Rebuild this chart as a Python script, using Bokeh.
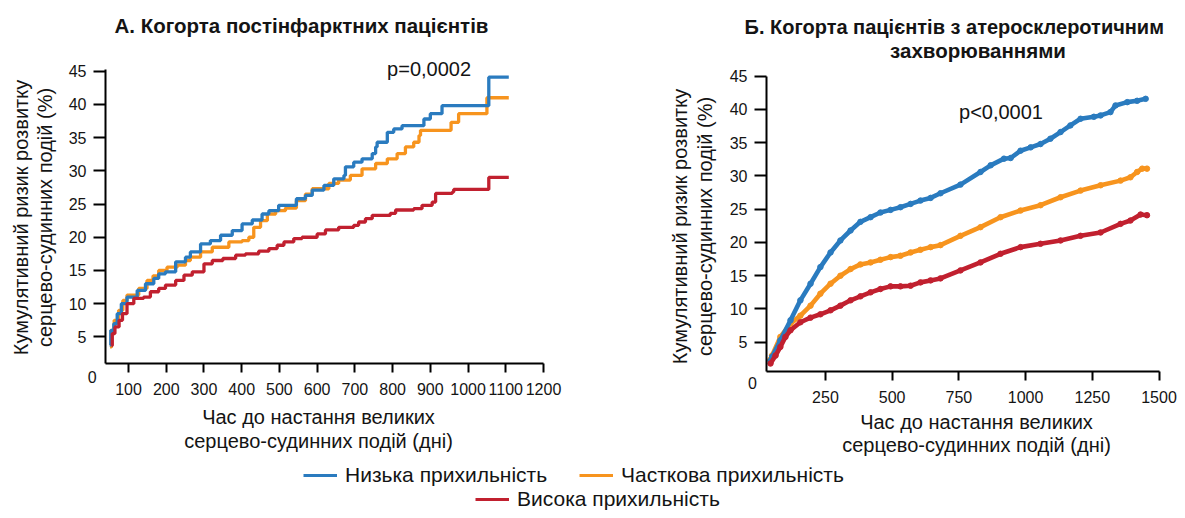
import math
from bokeh.plotting import figure
from bokeh.layouts import column, row
from bokeh.models import Label, Legend, LegendItem, FixedTicker, ColumnDataSource, Range1d
from bokeh.embed import file_html
from bokeh.resources import INLINE

BLUE = "#2A7BBF"
ORANGE = "#F7941E"
RED = "#C1202F"
FONT = "Liberation Sans"
INK = "#141414"

# ---------------- Panel A (post-MI cohort), Kaplan-Meier steps ----------------
a_low_days = [50, 53, 61, 70, 81, 96, 123, 145, 167, 180, 198, 225, 251, 264, 291, 317, 344, 375,
              401, 428, 454, 472, 498, 545, 569, 587, 618, 644, 671, 675, 697, 719, 746, 755, 759,
              786, 803, 825, 883, 900, 931, 1055, 1108]
a_low_risk = [3.8, 6.0, 7.0, 8.5, 10.0, 11.0, 12.0, 13.0, 13.8, 14.5, 14.8, 16.3, 17.0, 17.8, 19.0,
              19.5, 20.3, 21.0, 22.0, 22.6, 23.5, 24.0, 24.8, 25.8, 26.3, 27.1, 27.8, 28.8, 29.3,
              30.6, 31.3, 31.8, 32.6, 33.6, 34.3, 35.8, 36.3, 36.8, 37.8, 38.6, 39.8, 44.1, 44.1]

a_part_days = [51, 55, 62, 74, 85, 96, 127, 149, 165, 180, 202, 229, 251, 264, 291, 322, 366, 401,
               419, 432, 450, 468, 490, 516, 545, 569, 587, 631, 657, 688, 719, 755, 786, 812, 834,
               856, 870, 874, 955, 975, 1050, 1108]
a_part_risk = [3.5, 6.0, 7.5, 9.0, 10.5, 11.3, 12.3, 13.5, 14.2, 15.0, 15.5, 15.8, 16.5, 17.0, 17.8,
               18.5, 19.3, 19.5, 20.0, 21.5, 22.5, 23.5, 24.0, 24.4, 25.5, 26.5, 27.3, 28.1, 28.6,
               29.3, 30.3, 31.1, 31.8, 32.6, 33.6, 34.3, 35.3, 36.1, 37.3, 38.6, 41.0, 41.0]

a_high_days = [55, 57, 64, 75, 84, 96, 114, 140, 158, 180, 198, 225, 247, 269, 300, 322, 350, 384,
               410, 445, 472, 494, 512, 538, 560, 600, 622, 657, 697, 710, 728, 746, 794, 808, 856,
               878, 905, 914, 958, 962, 1055, 1108]
a_high_risk = [3.7, 5.5, 6.5, 7.5, 8.5, 10.0, 10.8, 11.0, 11.8, 12.3, 12.8, 13.5, 14.3, 14.8, 16.0,
               16.5, 16.8, 17.3, 17.5, 17.9, 18.3, 18.8, 19.3, 19.8, 20.0, 20.5, 21.1, 21.5, 21.8,
               22.3, 22.8, 23.3, 23.6, 24.1, 24.3, 24.8, 25.3, 26.6, 26.8, 27.2, 29.0, 29.0]

a_xticks = [100, 200, 300, 400, 500, 600, 700, 800, 900, 1000, 1100, 1200]
a_yticks = [5, 10, 15, 20, 25, 30, 35, 40, 45]

# ---------------- Panel B (atherosclerotic cohort) ----------------
b_low_days = [44, 50, 81, 119, 156, 194, 231, 269, 306, 344, 381, 419, 456, 494, 531, 569, 606,
              644, 681, 756, 831, 869, 919, 944, 981, 1019, 1056, 1093, 1131, 1168, 1206, 1256,
              1281, 1318, 1337, 1381, 1418, 1450]
b_low_risk = [2.2, 2.8, 5.3, 8.3, 11.3, 13.8, 16.3, 18.5, 20.3, 21.8, 23.1, 23.8, 24.5, 24.9, 25.3,
              25.8, 26.3, 26.7, 27.4, 28.7, 30.6, 31.6, 32.6, 32.7, 33.8, 34.3, 34.8, 35.6, 36.6,
              37.6, 38.6, 38.9, 39.1, 39.6, 40.6, 41.1, 41.3, 41.6]

b_part_days = [44, 50, 81, 119, 156, 194, 231, 269, 306, 344, 381, 419, 456, 494, 531, 569, 606,
               644, 681, 756, 831, 906, 981, 1056, 1131, 1206, 1281, 1356, 1393, 1418, 1437, 1455]
b_part_risk = [2.4, 3.0, 5.8, 7.8, 9.0, 10.5, 12.3, 13.8, 15.0, 16.0, 16.7, 17.0, 17.4, 17.8, 18.0,
               18.5, 18.9, 19.3, 19.6, 21.0, 22.3, 23.8, 24.8, 25.6, 26.8, 27.8, 28.6, 29.3, 29.8,
               30.6, 31.1, 31.1]

b_high_days = [44, 63, 81, 100, 119, 156, 194, 231, 269, 306, 344, 381, 419, 456, 494, 531, 569,
               606, 644, 681, 756, 831, 906, 981, 1056, 1131, 1206, 1281, 1356, 1393, 1431, 1455]
b_high_risk = [1.8, 3.0, 4.3, 5.8, 6.8, 8.0, 8.7, 9.2, 9.8, 10.5, 11.3, 11.9, 12.5, 13.0, 13.4,
               13.4, 13.5, 14.0, 14.3, 14.6, 15.8, 17.0, 18.3, 19.3, 19.8, 20.3, 21.0, 21.5, 22.8,
               23.3, 24.2, 24.1]

b_xticks = [250, 500, 750, 1000, 1250, 1500]
b_yticks = [5, 10, 15, 20, 25, 30, 35, 40, 45]

series_names = ["Низька прихильність", "Часткова прихильність", "Висока прихильність"]
title_a = "А. Когорта постінфарктних пацієнтів"
title_b1 = "Б. Когорта пацієнтів з атеросклеротичним"
title_b2 = "захворюваннями"
ylab1 = "Кумулятивний ризик розвитку"
ylab2 = "серцево-судинних подій (%)"
xlab1 = "Час до настання великих"
xlab2 = "серцево-судинних подій (дні)"
p_a = "p=0,0002"
p_b = "p<0,0001"


def make_panel(width, height, xlim, ylim, box):
    """box = (left, right, top, bottom) pixel positions of the axes box inside the canvas.
    The plotting frame covers the whole canvas; axes are pinned to the box corner."""
    left, right, top, bottom = box
    sx = (right - left) / (xlim[1] - xlim[0])
    sy = (bottom - top) / (ylim[1] - ylim[0])
    xr = Range1d(xlim[0] - left / sx, xlim[1] + (width - right) / sx)
    yr = Range1d(ylim[0] - (height - bottom) / sy, ylim[1] + top / sy)
    p = figure(width=width, height=height, x_range=xr, y_range=yr,
               output_backend="svg", toolbar_location=None, min_border=0)
    p.xgrid.visible = False
    p.ygrid.visible = False
    p.outline_line_color = None
    p.background_fill_color = "white"
    p.border_fill_color = "white"
    xa, ya = p.xaxis[0], p.yaxis[0]
    xa.fixed_location = ylim[0]
    ya.fixed_location = xlim[0]
    xa.bounds = (xlim[0], xlim[1])
    ya.bounds = (ylim[0], ylim[1])
    for ax in (xa, ya):
        ax.axis_line_width = 2
        ax.axis_line_color = "black"
        ax.major_tick_line_width = 2
        ax.major_tick_line_color = "black"
        ax.major_tick_in = 0
        ax.minor_tick_line_color = None
        ax.major_label_text_font = FONT
        ax.major_label_text_font_size = "16px"
        ax.major_label_text_color = INK
    xa.major_tick_out = 9
    ya.major_tick_out = 12
    xa.major_label_standoff = 10
    ya.major_label_standoff = 7
    return p


def text(p, s, x, y, size="20px", bold=False, angle=0.0, align="center"):
    p.add_layout(Label(x=x, y=y, x_units="screen", y_units="screen", text=s,
                       text_font=FONT, text_font_size=size,
                       text_font_style="bold" if bold else "normal",
                       text_align=align, text_baseline="middle", angle=angle,
                       text_color=INK))


H = 463
# ---------------- Figure A (x 0..640) ----------------
p1 = make_panel(640, H, (39, 1200), (1.0, 45.25), (105, 543, 69, 363))
p1.xaxis.ticker = FixedTicker(ticks=a_xticks)
p1.yaxis.ticker = FixedTicker(ticks=a_yticks)
for d, r, c in [(a_part_days, a_part_risk, ORANGE), (a_low_days, a_low_risk, BLUE),
                (a_high_days, a_high_risk, RED)]:
    p1.step(x=d, y=r, mode="after", line_color=c, line_width=3.3)

text(p1, title_a, 301, H - 25, size="20.5px", bold=True)
text(p1, ylab1, 20.5, 246, angle=math.pi / 2)
text(p1, ylab2, 44, 246, angle=math.pi / 2)
text(p1, xlab1, 318, 47)
text(p1, xlab2, 318, 23)
text(p1, p_a, 428.6, 394.5)
text(p1, "0", 91.6, 86.3, size="16px")

# ---------------- Figure B (x 640..1177) ----------------
p2 = make_panel(537, H, (29, 1500), (0.6, 45.0), (126, 518.5, 75.7, 371))
p2.xaxis.ticker = FixedTicker(ticks=b_xticks)
p2.yaxis.ticker = FixedTicker(ticks=b_yticks)
for d, r, c in [(b_part_days, b_part_risk, ORANGE), (b_low_days, b_low_risk, BLUE),
                (b_high_days, b_high_risk, RED)]:
    src = ColumnDataSource(dict(x=d, y=r))
    p2.line(x="x", y="y", source=src, line_color=c, line_width=4.6, line_join="round")
    p2.scatter(x="x", y="y", source=src, size=5.5, fill_color=c, line_color=c)

text(p2, title_b1, 104, H - 26, size="20px", bold=True, align="left")
text(p2, title_b2, 337.5, H - 50, size="20.5px", bold=True)
text(p2, ylab1, 39, 237, angle=math.pi / 2)
text(p2, ylab2, 64, 237, angle=math.pi / 2)
text(p2, xlab1, 336, 42)
text(p2, xlab2, 336, 19)
text(p2, p_b, 360.5, 351.5)
text(p2, "0", 112, 81, size="16px")

# ---------------- Legend strip (y 463..510) ----------------
p3 = figure(width=1177, height=47, x_range=Range1d(0, 1), y_range=Range1d(0, 1),
            x_axis_type=None, y_axis_type=None, output_backend="svg", toolbar_location=None,
            min_border=0)
p3.xgrid.visible = False
p3.ygrid.visible = False
p3.outline_line_color = None
# legend-only renderers, kept outside the visible range
rs = [p3.line(x=[5, 6], y=[5, 6], line_color=c, line_width=3) for c in (BLUE, ORANGE, RED)]


def make_legend(name, r, loc):
    lg = Legend(items=[LegendItem(label=name, renderers=[r])], location=loc,
                orientation="horizontal",
                label_text_font=FONT, label_text_font_size="21px", label_text_color=INK,
                glyph_width=34, glyph_height=24, label_height=24, label_standoff=8,
                spacing=0, padding=0, margin=0, border_line_color=None,
                background_fill_alpha=0)
    p3.add_layout(lg)


make_legend(series_names[0], rs[0], (303, 23))
make_legend(series_names[1], rs[1], (579, 23))
make_legend(series_names[2], rs[2], (475, -1))

layout = column(row(p1, p2), p3)
open("out.html", "w").write(file_html(layout, INLINE))
